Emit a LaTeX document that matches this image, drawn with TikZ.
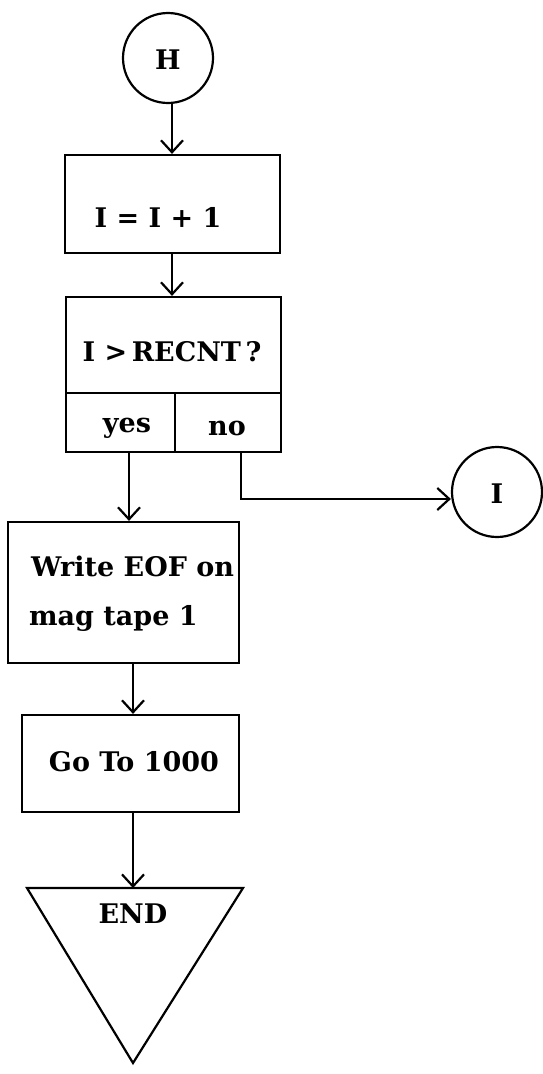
\documentclass[tikz,border=0pt]{standalone}
\usepackage{fontspec}
\setmainfont{DejaVu Serif}
\usetikzlibrary{arrows.meta,calc}
\begin{document}
\begin{tikzpicture}[x=1pt,y=-1pt,
  line width=2.2pt,
  box/.style={draw,rectangle,minimum width=#1,inner sep=0pt},
  conn/.style={draw,circle,minimum size=90pt,inner sep=0pt},
  txt/.style={font=\bfseries\fontsize{27}{31}\selectfont,inner sep=0pt},
  arr/.style={-{Straight Barb[length=12pt,width=22pt,line width=2.2pt]}}
]
\useasboundingbox (0,0) rectangle (543,1074);
% connectors (circles)
\node[conn] (h) at (168,58) {};
\node[txt] (th) at (168,60) {H};
\node[conn,minimum size=90pt] (i) at (497,492) {};
\node[txt] (ti) at (497,494) {I};
% box 1
\node[box=215pt,minimum height=98pt] (b1) at (172.5,204) {};
\node[txt] (t1) at (158,217) {I = I + 1};
% decision box
\node[box=215pt,minimum height=96pt] (b2) at (173.5,345) {};
\node[txt] (t2) at (172,352) {I {\fontspec{DejaVu Sans}\bfseries >}\,RECNT\,?};
\node[box=109pt,minimum height=59pt] (yes) at (120.5,422.5) {};
\node[box=106pt,minimum height=59pt] (no) at (228,422.5) {};
\node[txt] (ty) at (127,428) {yes};
\node[txt] (tn) at (227,428) {no};
% write box
\node[box=231pt,minimum height=141pt] (wr) at (123.5,592.5) {};
\node[txt,anchor=west] (tw1) at (30,566) {Write EOF on};
\node[txt,anchor=west] (tw2) at (28,618) {mag tape 1};
% go to box
\node[box=217pt,minimum height=97pt] (go) at (130.5,763.5) {};
\node[txt] (tg) at (134,762) {Go To 1000};
% end triangle
\coordinate (e1) at (27,888);
\coordinate (e2) at (243,888);
\coordinate (e3) at (133,1063);
\draw (e1) -- (e2) -- (e3) -- cycle;
\node[txt] (te) at (133,914) {END};
% arrows
\draw[arr] ([xshift=4pt]h.south) -- ([xshift=4pt]h.south |- b1.north);
\draw[arr] ([xshift=4pt]b1.south -| h.south) -- ([xshift=4pt]b2.north -| h.south);
\draw[arr] ([xshift=8.5pt]yes.south) -- ([xshift=8.5pt]yes.south |- wr.north);
\draw[arr] ([xshift=13pt]no.south) |- ([yshift=-7pt]i.west);
\draw[arr] ([xshift=9.5pt]wr.south) -- ([xshift=9.5pt]wr.south |- go.north);
\draw[arr] ([xshift=2.5pt]go.south) -- ([xshift=2.5pt]go.south |- e2);
\end{tikzpicture}
\end{document}
